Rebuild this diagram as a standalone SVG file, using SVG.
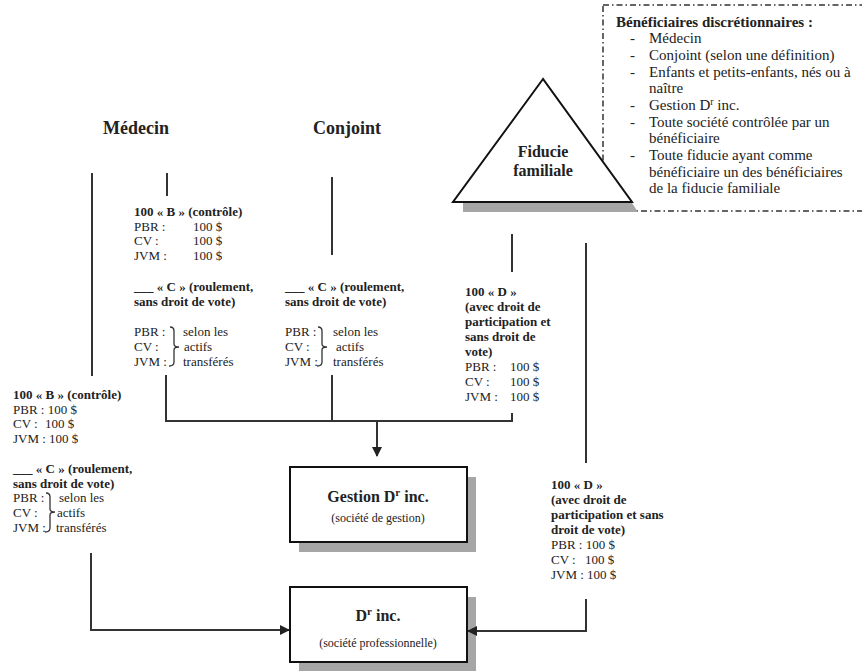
<svg xmlns="http://www.w3.org/2000/svg" width="862" height="671" viewBox="0 0 862 671">
<defs>
<marker id="arr" markerWidth="10" markerHeight="10" refX="9" refY="5" orient="auto" markerUnits="userSpaceOnUse">
<path d="M0,0 L10,5 L0,10 Z" fill="#222"/>
</marker>
<style>
text{font-family:"Liberation Serif","Times New Roman",serif;fill:#222;}
.h{font-size:18px;font-weight:bold;}
.b{font-size:13px;font-weight:bold;}
.r{font-size:13px;}
.lt{font-size:15px;font-weight:bold;}
.l{font-size:15px;}
.t{font-size:16px;font-weight:bold;}
.s{font-size:12px;}
.ln{stroke:#333;stroke-width:2;fill:none;}
.br{stroke:#333;stroke-width:1.3;fill:none;}
.box{fill:#fff;stroke:#111;stroke-width:2;}
.sh{fill:#a6a6a6;}
</style>
</defs>
<rect width="862" height="671" fill="#fff"/>

<g id="beneficiaires">
<rect x="603" y="5" width="270" height="206" fill="#fff" stroke="#333" stroke-width="1.5" stroke-dasharray="6 3 1.5 3"/>
<text class="lt" x="616" y="27">Bénéficiaires discrétionnaires :</text>
<text class="l" x="630" y="43">-</text><text class="l" x="649" y="43">Médecin</text>
<text class="l" x="630" y="60">-</text><text class="l" x="649" y="60">Conjoint (selon une définition)</text>
<text class="l" x="630" y="77">-</text><text class="l" x="649" y="77">Enfants et petits-enfants, nés ou à</text>
<text class="l" x="649" y="93">naître</text>
<text class="l" x="630" y="110">-</text><text class="l" x="649" y="110">Gestion D<tspan font-size="10" dy="-5">r</tspan><tspan dy="5"> inc.</tspan></text>
<text class="l" x="630" y="127">-</text><text class="l" x="649" y="127">Toute société contrôlée par un</text>
<text class="l" x="649" y="143">bénéficiaire</text>
<text class="l" x="630" y="160">-</text><text class="l" x="649" y="160">Toute fiducie ayant comme</text>
<text class="l" x="649" y="177">bénéficiaire un des bénéficiaires</text>
<text class="l" x="649" y="193">de la fiducie familiale</text>
</g>

<g id="fiducie">
<polygon class="sh" points="463,203 632,203 638,212 463,212"/>
<polygon points="543,79 453,202 632,202" fill="#fff" stroke="#111" stroke-width="2" stroke-linejoin="miter"/>
<text class="t" x="543" y="157" text-anchor="middle">Fiducie</text>
<text class="t" x="543" y="176" text-anchor="middle">familiale</text>
</g>

<g id="medecin"><text class="h" x="103" y="134">Médecin</text></g>
<g id="conjoint"><text class="h" x="313" y="134">Conjoint</text></g>

<g id="gestion">
<rect class="sh" x="299" y="477" width="177" height="75"/>
<rect class="box" x="290" y="467" width="177" height="75"/>
<text class="t" x="378" y="502" text-anchor="middle">Gestion D<tspan font-size="11" dy="-6">r</tspan><tspan dy="6"> inc.</tspan></text>
<text class="s" x="378" y="522" text-anchor="middle">(société de gestion)</text>
</g>

<g id="drinc">
<rect class="sh" x="299" y="597" width="177" height="75"/>
<rect class="box" x="290" y="587" width="177" height="75"/>
<text class="t" x="378" y="621" text-anchor="middle">D<tspan font-size="11" dy="-6">r</tspan><tspan dy="6"> inc.</tspan></text>
<text class="s" x="378" y="647" text-anchor="middle">(société professionnelle)</text>
</g>

<g id="actions-medecin-gestion">
<text class="b" x="134" y="216">100 « B » (contrôle)</text>
<text class="r" x="134" y="231">PBR :</text><text class="r" x="193" y="231">100 $</text>
<text class="r" x="134" y="245">CV :</text><text class="r" x="193" y="245">100 $</text>
<text class="r" x="134" y="260">JVM :</text><text class="r" x="193" y="260">100 $</text>
<text class="b" x="134" y="291">___ « C » (roulement,</text>
<text class="b" x="134" y="306">sans droit de vote)</text>
<text class="r" x="134" y="336">PBR :</text>
<text class="r" x="134" y="351">CV :</text>
<text class="r" x="134" y="366">JVM :</text>
<path class="br" d="M170,327 Q174,327 174,331 L174,344 Q174,347 179,347 Q174,347 174,350 L174,362 Q174,366 169,366"/>
<text class="r" x="183" y="336">selon les</text>
<text class="r" x="184" y="351">actifs</text>
<text class="r" x="183" y="366">transférés</text>
</g>

<g id="actions-conjoint-gestion">
<text class="b" x="285" y="291">___ « C » (roulement,</text>
<text class="b" x="285" y="306">sans droit de vote)</text>
<text class="r" x="285" y="336">PBR :</text>
<text class="r" x="285" y="351">CV :</text>
<text class="r" x="285" y="366">JVM :</text>
<path class="br" d="M318,327 Q322,327 322,331 L322,344 Q322,347 327,347 Q322,347 322,350 L322,362 Q322,366 317,366"/>
<text class="r" x="333" y="336">selon les</text>
<text class="r" x="336" y="351">actifs</text>
<text class="r" x="333" y="366">transférés</text>
</g>

<g id="actions-fiducie-gestion">
<text class="b" x="465" y="296">100 « D »</text>
<text class="b" x="465" y="311">(avec droit de</text>
<text class="b" x="465" y="326">participation et</text>
<text class="b" x="465" y="341">sans droit de</text>
<text class="b" x="465" y="356">vote)</text>
<text class="r" x="465" y="371">PBR :</text><text class="r" x="510" y="371">100 $</text>
<text class="r" x="465" y="386">CV :</text><text class="r" x="510" y="386">100 $</text>
<text class="r" x="465" y="401">JVM :</text><text class="r" x="510" y="401">100 $</text>
</g>

<g id="actions-medecin-drinc">
<text class="b" x="13" y="399">100 « B » (contrôle)</text>
<text class="r" x="13" y="414">PBR : 100 $</text>
<text class="r" x="13" y="428">CV :</text><text class="r" x="45" y="428">100 $</text>
<text class="r" x="13" y="443">JVM : 100 $</text>
<text class="b" x="13" y="473">___ « C » (roulement,</text>
<text class="b" x="13" y="488">sans droit de vote)</text>
<text class="r" x="13" y="502">PBR :</text>
<text class="r" x="13" y="517">CV :</text>
<text class="r" x="13" y="532">JVM :</text>
<path class="br" d="M46,493 Q50,493 50,497 L50,509 Q50,512 55,512 Q50,512 50,515 L50,528 Q50,532 45,532"/>
<text class="r" x="59" y="502">selon les</text>
<text class="r" x="57" y="517">actifs</text>
<text class="r" x="56" y="532">transférés</text>
</g>

<g id="actions-fiducie-drinc">
<text class="b" x="551" y="489">100 « D »</text>
<text class="b" x="551" y="504">(avec droit de</text>
<text class="b" x="551" y="519">participation et sans</text>
<text class="b" x="551" y="534">droit de vote)</text>
<text class="r" x="551" y="549">PBR : 100 $</text>
<text class="r" x="551" y="564">CV :</text><text class="r" x="585" y="564">100 $</text>
<text class="r" x="551" y="579">JVM : 100 $</text>
</g>

<g id="connectors">
<line class="ln" x1="92" y1="173" x2="92" y2="376"/>
<polyline class="ln" points="91,553 91,630 289,630" marker-end="url(#arr)"/>
<line class="ln" x1="167" y1="173" x2="167" y2="196"/>
<polyline class="ln" points="166,375 166,421 512,421 512,413"/>
<line class="ln" x1="332" y1="177" x2="332" y2="255"/>
<line class="ln" x1="332" y1="375" x2="332" y2="421"/>
<line class="ln" x1="512" y1="234" x2="512" y2="272"/>
<line class="ln" x1="377" y1="421" x2="377" y2="456" marker-end="url(#arr)"/>
<line class="ln" x1="586" y1="243" x2="586" y2="463"/>
<polyline class="ln" points="586,599 586,631 468,631" marker-end="url(#arr)"/>
</g>
</svg>
